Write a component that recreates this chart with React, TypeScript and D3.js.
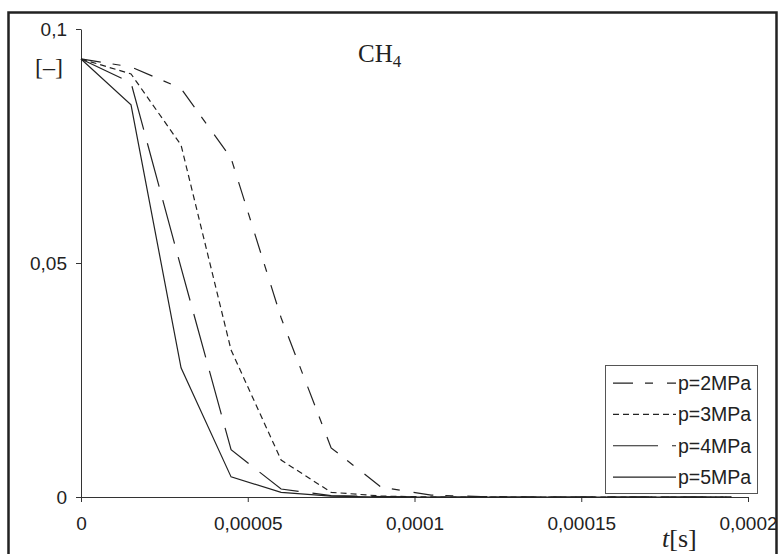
import * as d3 from "d3";
import { useRef, useEffect } from "react";

// time steps [s]
const times = [0, 0.000015, 0.00003, 0.000045, 0.00006, 0.000075, 0.00009, 0.000105, 0.00012, 0.000135, 0.00015, 0.000165, 0.00018, 0.000195];

// CH4 fraction per pressure
const p2 = [0.0936, 0.0919, 0.0873, 0.0724, 0.0383, 0.0105, 0.0021, 0.0004, 0.0001, 0, 0, 0, 0, 0];
const p3 = [0.0936, 0.0904, 0.0752, 0.0314, 0.0079, 0.001, 0.0002, 0, 0, 0, 0, 0, 0, 0];
const p4 = [0.0936, 0.0885, 0.049, 0.0101, 0.0017, 0.0003, 0.0001, 0, 0, 0, 0, 0, 0, 0];
const p5 = [0.0936, 0.0838, 0.0276, 0.0043, 0.001, 0.0002, 0, 0, 0, 0, 0, 0, 0, 0];

const seriesNames = ["p=2MPa", "p=3MPa", "p=4MPa", "p=5MPa"];
const xTicks = [0, 0.00005, 0.0001, 0.00015, 0.0002];
const xTickLabels = ["0", "0,00005", "0,0001", "0,00015", "0,0002"];
const yTicks = [0, 0.05, 0.1];
const yTickLabels = ["0", "0,05", "0,1"];

const width = 779;
const height = 554;
const ink = "#222";

const App = () => {
  const ref = useRef(null);

  useEffect(() => {
    const svg = d3.select(ref.current);
    svg.selectAll("*").remove();

    const x = d3.scaleLinear().domain([0, 0.0002]).range([81, 748]);
    const y = d3.scaleLinear().domain([0, 0.1]).range([497, 29]);

    svg.append("rect").attr("width", width).attr("height", height).attr("fill", "#fff");

    // outer frame
    svg.append("rect")
      .attr("x", 8.5).attr("y", 12.5)
      .attr("width", 768).attr("height", 580)
      .attr("fill", "none").attr("stroke", ink).attr("stroke-width", 2.5);

    // axes
    const xAxis = svg.append("g")
      .attr("transform", `translate(0,${y(0)})`)
      .call(d3.axisBottom(x).tickValues(xTicks).tickSize(5).tickSizeOuter(0)
        .tickFormat((d, i) => xTickLabels[i]));
    const yAxis = svg.append("g")
      .attr("transform", `translate(${x(0)},0)`)
      .call(d3.axisLeft(y).tickValues(yTicks).tickSize(5).tickSizeOuter(0)
        .tickFormat((d, i) => yTickLabels[i]));

    [xAxis, yAxis].forEach((g) => {
      g.select(".domain").attr("stroke", "#333");
      g.selectAll(".tick line").attr("stroke", "#333");
      g.selectAll(".tick text")
        .attr("fill", ink)
        .attr("font-family", "'Liberation Sans', Arial, sans-serif")
        .attr("font-size", 19);
    });
    xAxis.selectAll(".tick text").attr("dy", 0).attr("y", 33);
    yAxis.selectAll(".tick text").attr("x", -14);

    // lines
    const dashes = ["20,12,8,14", "6,4", "45,14", null];
    const allSeries = [p2, p3, p4, p5];
    const line = d3.line()
      .x((d, i) => x(times[i]))
      .y((d) => y(d));

    allSeries.forEach((s, k) => {
      svg.append("path")
        .datum(s)
        .attr("d", line)
        .attr("fill", "none")
        .attr("stroke", ink)
        .attr("stroke-width", 1.2)
        .attr("stroke-dasharray", dashes[k]);
    });

    // labels
    svg.append("text")
      .attr("x", 35).attr("y", 75)
      .attr("font-family", "'Liberation Serif', 'Times New Roman', serif")
      .attr("font-size", 24).attr("fill", ink)
      .text("[–]");

    const title = svg.append("text")
      .attr("x", 358).attr("y", 62)
      .attr("font-family", "'Liberation Serif', 'Times New Roman', serif")
      .attr("font-size", 25).attr("fill", ink);
    title.append("tspan").text("CH");
    title.append("tspan").attr("font-size", 17).attr("dy", 5).text("4");

    const tl = svg.append("text")
      .attr("x", 662).attr("y", 547)
      .attr("font-family", "'Liberation Serif', 'Times New Roman', serif")
      .attr("font-size", 26).attr("fill", ink);
    tl.append("tspan").attr("font-style", "italic").text("t");
    tl.append("tspan").text("[s]");

    // legend
    const lg = svg.append("g");
    lg.append("rect")
      .attr("x", 605.5).attr("y", 365.5)
      .attr("width", 152).attr("height", 128)
      .attr("fill", "#fff").attr("stroke", "#555").attr("stroke-width", 1);
    const rowY = d3.scaleBand().domain(seriesNames).range([367.5, 492.7]);
    seriesNames.forEach((name, k) => {
      const cy = rowY(name) + rowY.bandwidth() / 2;
      lg.append("line")
        .attr("x1", 613).attr("x2", 676)
        .attr("y1", cy).attr("y2", cy)
        .attr("stroke", ink).attr("stroke-width", 1.2)
        .attr("stroke-dasharray", dashes[k]);
      lg.append("text")
        .attr("x", 678).attr("y", cy)
        .attr("dy", "0.35em")
        .attr("font-family", "'Liberation Sans', Arial, sans-serif")
        .attr("font-size", 19.5).attr("fill", ink)
        .text(name);
    });
  }, []);

  return (
    <svg
      ref={ref}
      width={width}
      height={height}
      style={{ position: "absolute", left: 0, top: 0 }}
    />
  );
};

export default App;
